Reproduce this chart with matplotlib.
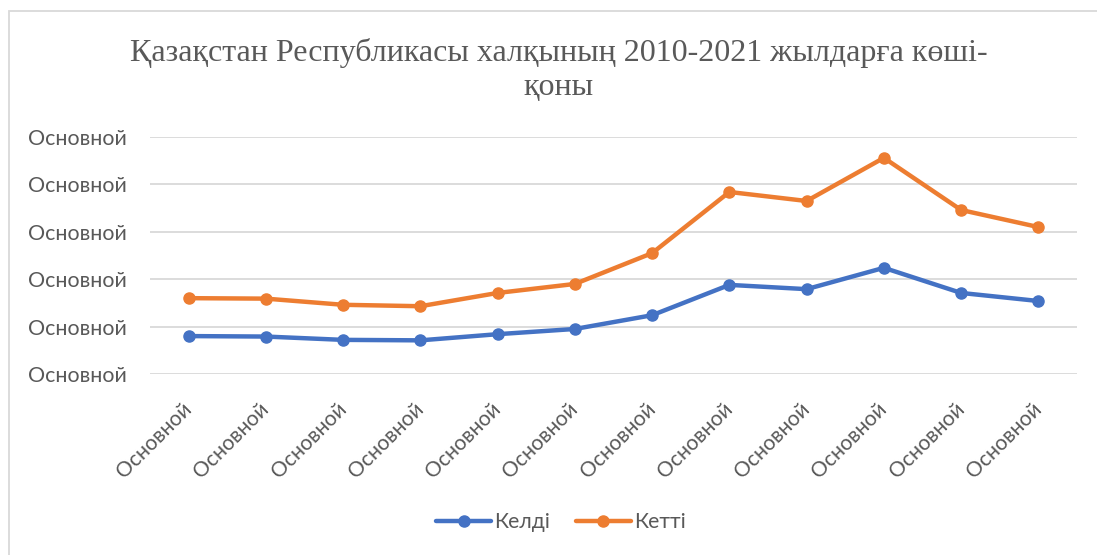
import matplotlib.pyplot as plt
from matplotlib.patches import Rectangle
from matplotlib.transforms import ScaledTranslation

# chart data (in grid-step units)
years = ["Основной"] * 12
keldi = [0.80, 0.79, 0.72, 0.71, 0.84, 0.95, 1.24, 1.88, 1.79, 2.24, 1.71, 1.54]
ketti = [1.60, 1.59, 1.46, 1.43, 1.71, 1.90, 2.55, 3.84, 3.65, 4.56, 3.46, 3.10]
y_ticks = [0, 1, 2, 3, 4, 5]
y_labels = ["Основной"] * 6

txt = "#595959"
sans = ["Lato", "DejaVu Sans"]

fig = plt.figure(figsize=(10.97, 5.55), dpi=100)
ax = fig.add_axes([150 / 1097, 1 - 374 / 555, (1077 - 150) / 1097, (374 - 137) / 555])

x = range(len(years))
ax.plot(x, keldi, color="#4472C4", lw=3.2, marker="o", ms=8, label="Келді",
        solid_capstyle="round")
ax.plot(x, ketti, color="#ED7D31", lw=3.2, marker="o", ms=8, label="Кетті",
        solid_capstyle="round")

ax.set_xlim(-0.5, len(years) - 0.5)
ax.set_ylim(0, 5)
ax.tick_params(axis="both", length=0)
ax.tick_params(axis="y", pad=17)
ax.tick_params(axis="x", pad=18)
ax.set_yticks(y_ticks)
ax.set_yticklabels(y_labels, family=sans, fontsize=15.4, color=txt)
ax.set_xticks(list(x))
ax.set_xticklabels(years, family=sans, fontsize=15.2, color=txt, rotation=45,
                   ha="right", rotation_mode="anchor")
# nudge rotated labels left so their ends sit like the reference
shift = ScaledTranslation(-7 / 100, 0, fig.dpi_scale_trans)
for lab in ax.get_xticklabels():
    lab.set_transform(lab.get_transform() + shift)
ax.grid(axis="y", color="#d9d9d9", lw=1.3)
ax.set_axisbelow(True)
for s in ax.spines.values():
    s.set_visible(False)

fig.text(559 / 1097, 1 - 70 / 555,
         "Қазақстан Республикасы халқының 2010-2021 жылдарға көші-\nқоны",
         ha="center", va="center", family=["Liberation Serif"], fontsize=23,
         color=txt, linespacing=1.25)

leg = fig.legend(loc="center", bbox_to_anchor=(561 / 1097, 1 - 522 / 555), ncol=2,
                 frameon=False, prop={"family": sans, "size": 15.2},
                 handlelength=2.6, handletextpad=0.15, columnspacing=1.2)
for t in leg.get_texts():
    t.set_color(txt)

# chart-area border (cut off on right and bottom as in the reference)
fig.patches.append(Rectangle((8.5 / 1097, -0.05), 1.1, 1 - 10.5 / 555 + 0.05,
                             transform=fig.transFigure, fill=False,
                             edgecolor="#d9d9d9", lw=1.3))

fig.savefig("out.png", dpi=100)
